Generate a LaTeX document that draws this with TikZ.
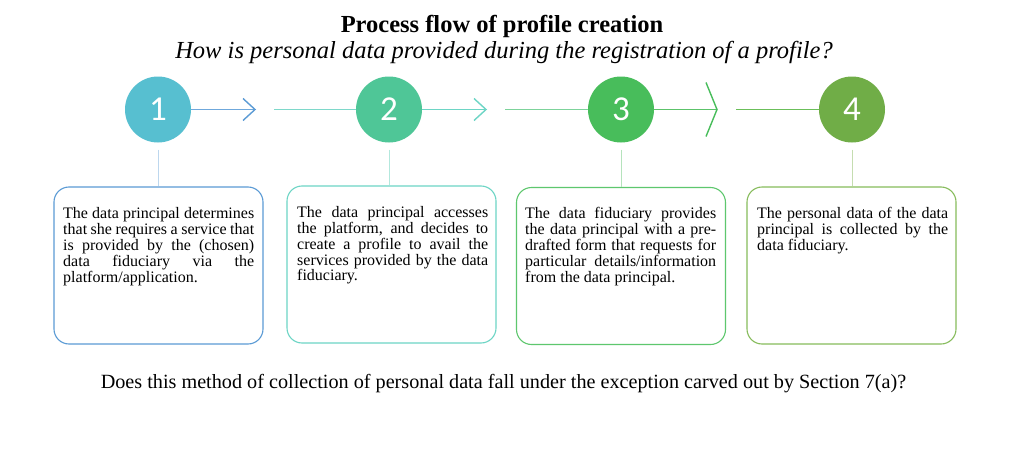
\documentclass[tikz,border=0pt]{standalone}
\usepackage{fontspec}
\setmainfont{Liberation Serif}
\newfontfamily\numfont{Carlito}
\definecolor{c1}{HTML}{57BFD0}
\definecolor{c2}{HTML}{4FC697}
\definecolor{c3}{HTML}{48BD5B}
\definecolor{c4}{HTML}{70AD47}
\definecolor{b1}{HTML}{5B9BD5}
\definecolor{b2}{HTML}{6DD5C5}
\definecolor{b3}{HTML}{5EC76E}
\definecolor{b4}{HTML}{87BC5C}
\definecolor{v1}{HTML}{BDD7EE}
\definecolor{v2}{HTML}{B3E8DD}
\definecolor{v3}{HTML}{B5E3BC}
\definecolor{v4}{HTML}{C5DDB0}
\definecolor{l1}{HTML}{6FA8DC}
\definecolor{l2a}{HTML}{7ED8CA}
\definecolor{l2b}{HTML}{6DD5C5}
\definecolor{l3a}{HTML}{7DD39B}
\definecolor{l3b}{HTML}{5CC36A}
\definecolor{l4a}{HTML}{6BBF5A}
\tikzset{
  circ/.style={circle, minimum size=66pt, inner sep=0pt, text=white,
    font=\numfont\fontsize{35}{35}\selectfont},
  stepbox/.style={draw, rounded corners=15pt, line width=1.1pt,
    minimum width=209pt, minimum height=157pt, inner sep=0pt},
  txt/.style={anchor=north west, inner sep=0pt, text width=191pt, align=justify,
    font=\fontsize{16}{15.9}\selectfont},
  conn/.style={line width=1.2pt},
  vconn/.style={line width=1pt},
  chev/.style={line width=1.4pt, line join=miter},
}
\begin{document}
\begin{tikzpicture}[x=1pt,y=-1pt]
\useasboundingbox[fill=white] (0,0) rectangle (1015,455);
% title
\node[font=\bfseries\fontsize{24.5}{24.5}\selectfont, anchor=base, inner sep=0pt] (title) at (502,32) {Process flow of profile creation};
\node[font=\itshape\fontsize{24.5}{24.5}\selectfont, anchor=base, inner sep=0pt] (sub) at (504,58) {How is personal data provided during the registration of a profile?};
% circles
\node[circ, fill=c1] (n1) at (158,109.5) {1};
\node[circ, fill=c2] (n2) at (389,109.5) {2};
\node[circ, fill=c3] (n3) at (621,109.5) {3};
\node[circ, fill=c4] (n4) at (852,109.5) {4};
% chevrons / line ends
\coordinate (t1) at (255,109.5);
\coordinate (t2) at (486,109.5);
\coordinate (t3) at (717,109.5);
\coordinate (s2) at (274,109.5);
\coordinate (s3) at (505,109.5);
\coordinate (s4) at (736,109.5);
\draw[conn, l1] (n1.east) -- (t1);
\draw[chev, b1] (243,98.5) -- (t1) -- (243,120.5);
\draw[conn, l2a] (s2) -- (n2.west);
\draw[conn, l2b] (n2.east) -- (t2);
\draw[chev, l2b] (474,98.5) -- (t2) -- (474,120.5);
\draw[conn, l3a] (s3) -- (n3.west);
\draw[conn, l3b] (n3.east) -- (t3);
\draw[chev, c3] (706,82.5) -- (t3) -- (706,136.5);
\draw[conn, l4a] (s4) -- (n4.west);
% boxes
\node[stepbox, draw=b1] (b1) at (158.5,265.5) {};
\node[stepbox, draw=b2] (b2) at (391.5,264.5) {};
\node[stepbox, draw=b3] (b3) at (621,266) {};
\node[stepbox, draw=b4] (b4) at (851.5,265.5) {};
% vertical connectors
\draw[vconn, v1] ([yshift=-7pt]n1.south) -- (n1.south |- b1.north);
\draw[vconn, v2] ([yshift=-7pt]n2.south) -- (n2.south |- b2.north);
\draw[vconn, v3] ([yshift=-7pt]n3.south) -- (n3.south |- b3.north);
\draw[vconn, v4] ([yshift=-7pt]n4.south) -- (n4.south |- b4.north);
% texts
\node[txt] (x1) at (63,207.5) {The data principal determines\linebreak that she requires a service that\linebreak is provided by the (chosen)\linebreak data fiduciary via the\linebreak platform/application.};
\node[txt] (x2) at (297,206) {The data principal accesses\linebreak the platform, and decides to\linebreak create a profile to avail the\linebreak services provided by the data\linebreak fiduciary.};
\node[txt] (x3) at (525,207.5) {The data fiduciary provides\linebreak the data principal with a pre-\linebreak drafted form that requests for\linebreak particular details/information\linebreak from the data principal.};
\node[txt] (x4) at (757,207.5) {The personal data of the data\linebreak principal is collected by the\linebreak data fiduciary.};
% question
\node[font=\fontsize{20.2}{20.2}\selectfont, anchor=base, inner sep=0pt] (q) at (503.5,388) {Does this method of collection of personal data fall under the exception carved out by Section 7(a)?};
\end{tikzpicture}
\end{document}
